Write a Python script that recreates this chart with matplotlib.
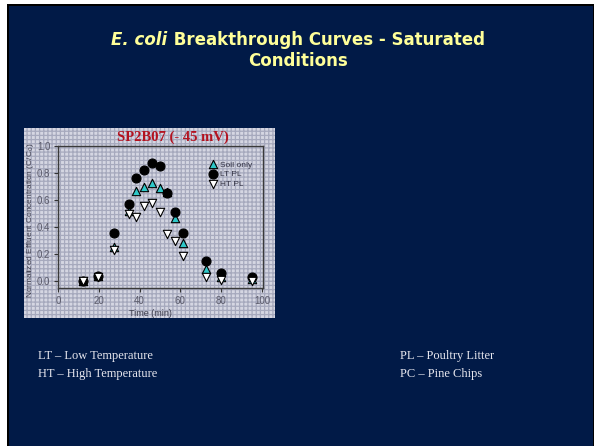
import matplotlib.pyplot as plt
from matplotlib.patches import Rectangle

W, H = 594, 446

# sampling times (min)
time_min = [12.3, 19.5, 27.3, 34.6, 38.4, 42.2, 46.0, 49.8, 53.5, 57.3, 61.1, 72.4, 79.8, 95.1]

# normalized effluent concentration C/C0
soil_only = [0.00, 0.037, 0.25, 0.52, 0.67, 0.70, 0.73, 0.69, 0.66, 0.47, 0.28, 0.087, 0.03, 0.02]
lt_pl = [0.00, 0.04, 0.357, 0.57, 0.76, 0.82, 0.874, 0.855, 0.65, 0.51, 0.354, 0.146, 0.062, 0.03]
ht_pl = [0.00, 0.03, 0.23, 0.50, 0.475, 0.557, 0.58, 0.51, 0.35, 0.30, 0.186, 0.03, 0.01, 0.00]

x_ticks = [0, 20, 40, 60, 80, 100]
y_ticks = [0.0, 0.2, 0.4, 0.6, 0.8, 1.0]

navy = '#011a47'
title_yellow = '#ffff99'
note_white = '#e6e6ee'


def px_box(x0, y0, x1, y1):
    # pixel box (top-left origin) -> figure fraction [left, bottom, width, height]
    return [x0 / W, 1 - y1 / H, (x1 - x0) / W, (y1 - y0) / H]


def add_rect(x0, y0, x1, y1, z, **kw):
    b = px_box(x0, y0, x1, y1)
    fig.patches.append(Rectangle((b[0], b[1]), b[2], b[3], transform=fig.transFigure,
                                 zorder=z, **kw))


plt.rcParams['hatch.linewidth'] = 0.9

fig = plt.figure(figsize=(W / 100, H / 100), dpi=100)
fig.patch.set_facecolor('white')

# slide frame: black edge and navy body, then the gray textured chart panel
add_rect(7, 4, 594, 446, -3, facecolor='black', edgecolor='none')
add_rect(9, 6, 593, 446, -2, facecolor=navy, edgecolor='none')
add_rect(24, 128, 275, 318, -1, facecolor='#d5d6e2', edgecolor='#a6a9bd',
         linewidth=0, hatch='++++')

# slide title, first line has an italic species name
renderer = fig.canvas.get_renderer()
title_kw = dict(fontsize=12, fontweight='bold', color=title_yellow,
                family='DejaVu Sans', va='center')
t_it = fig.text(0, 0, 'E. coli', style='italic', ha='left', **title_kw)
t_rest = fig.text(0, 0, ' Breakthrough Curves - Saturated', ha='left', **title_kw)
w_it = t_it.get_window_extent(renderer).width
w_rest = t_rest.get_window_extent(renderer).width
x_start = 298 - (w_it + w_rest) / 2
t_it.set_position((x_start / W, 1 - 40 / H))
t_rest.set_position(((x_start + w_it) / W, 1 - 40 / H))
fig.text(298 / W, 1 - 61 / H, 'Conditions', ha='center', **title_kw)

# chart
ax = fig.add_axes(px_box(58, 146, 263, 288))
ax.patch.set_alpha(0)
ax.scatter(time_min, soil_only, marker='^', s=36, facecolor='#2ec8c8',
           edgecolor='black', linewidth=0.8, zorder=3, label='Soil only')
ax.scatter(time_min, lt_pl, marker='o', s=42, facecolor='black',
           edgecolor='black', linewidth=0.8, zorder=4, label='LT PL')
ax.scatter(time_min, ht_pl, marker='v', s=36, facecolor='white',
           edgecolor='black', linewidth=0.8, zorder=5, label='HT PL')

ax.set_xlim(0, 100.5)
ax.set_ylim(-0.05, 1.0)
ax.set_xticks(x_ticks)
ax.set_yticks(y_ticks)
ax.set_yticklabels([f'{v:.1f}' for v in y_ticks])
ax.tick_params(direction='out', length=3, width=0.8, color='#333333',
               labelsize=7, labelcolor='#5a5a6a', pad=2.5)
for sp in ax.spines.values():
    sp.set_color('#3a3a3a')
    sp.set_linewidth(1.0)
for lab in ax.get_xticklabels() + ax.get_yticklabels():
    lab.set_family('Liberation Sans')

leg = ax.legend(loc='upper left', bbox_to_anchor=(0.715, 0.92), frameon=False,
                handletextpad=0.3, labelspacing=0.25, borderaxespad=0,
                handlelength=1.2, prop={'family': 'Liberation Sans', 'size': 6})
for txt in leg.get_texts():
    txt.set_color('#333344')

fig.text(173 / W, 1 - 137 / H, 'SP2B07 (- 45 mV)', ha='center', va='center',
         fontsize=10.5, fontweight='bold', family='Liberation Serif', color='#b3121f')
fig.text(150 / W, 1 - 313 / H, 'Time (min)', ha='center', va='center',
         fontsize=6.5, family='Liberation Sans', color='#3c3c4c')
fig.text(30 / W, 1 - 220 / H, 'Normalized Effluent Concentration (C/C$_0$)',
         ha='center', va='center', rotation=90,
         fontsize=6, family='Liberation Sans', color='#3c3c4c')

# abbreviations below the chart
note_kw = dict(fontsize=9, family='Liberation Serif', color=note_white, va='center', ha='left')
fig.text(38 / W, 1 - 356 / H, 'LT \u2013 Low Temperature', **note_kw)
fig.text(38 / W, 1 - 374 / H, 'HT \u2013 High Temperature', **note_kw)
fig.text(400 / W, 1 - 356 / H, 'PL \u2013 Poultry Litter', **note_kw)
fig.text(400 / W, 1 - 374 / H, 'PC \u2013 Pine Chips', **note_kw)

fig.savefig('out.png', dpi=100)
